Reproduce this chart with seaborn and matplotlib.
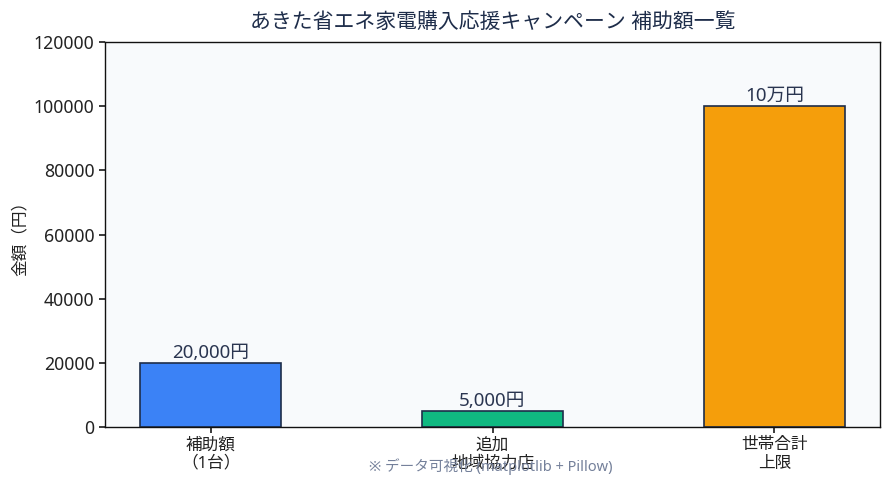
import matplotlib
matplotlib.use("Agg")
import matplotlib.pyplot as plt
import seaborn as sns
import pandas as pd

categories = ["補助額\n（1台）", "追加\n地域協力店", "世帯合計\n上限"]
values = [20000, 5000, 100000]
labels = ["20,000円", "5,000円", "10万円"]
colors = ["#3b82f6", "#10b981", "#f59e0b"]

sns.set_theme(style="white")
plt.rcParams["font.family"] = ["Noto Sans", "Noto Sans CJK JP", "DejaVu Sans"]

df = pd.DataFrame({"cat": categories, "val": values})

fig = plt.figure(figsize=(8.89, 4.86), dpi=100)
ax = fig.add_axes([105/889, 1-427/486, 775/889, 385/486])
ax.set_facecolor("#f8fafc")
sns.barplot(data=df, x="cat", y="val", hue="cat", palette=colors, legend=False,
            width=0.5, edgecolor="#1e2d4a", linewidth=1.2, saturation=1, ax=ax)
for i, (v, t) in enumerate(zip(values, labels)):
    ax.text(i, v + 400, t, ha="center", va="bottom", fontsize=13.5, color="#2a3550")
ax.set_xlim(-0.375, 2.375)
ax.set_ylim(0, 120000)
ax.set_xlabel("")
ax.set_ylabel("金額（円）", fontsize=12, color="#222222")
ax.set_title("あきた省エネ家電購入応援キャンペーン 補助額一覧", fontsize=15, color="#1e2d4a", pad=10)
ax.tick_params(axis="both", labelsize=12, colors="#222222", length=4, left=True, bottom=True)
ax.tick_params(axis="y", labelsize=12.7)
for s in ax.spines.values():
    s.set_color("#111111")
    s.set_linewidth(1.0)
fig.text(0.552, 1-467/486, "※ データ可視化 (matplotlib + Pillow)", ha="center", va="center",
         fontsize=10.5, color="#74809a")
fig.savefig("out.png", dpi=100)
